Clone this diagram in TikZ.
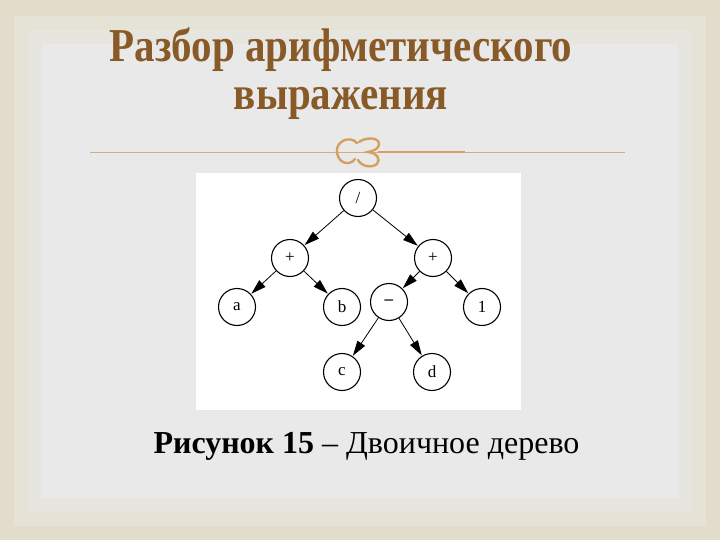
\documentclass[tikz,border=0pt]{standalone}
\usepackage{fontspec}
\setmainfont{Liberation Serif}
\usetikzlibrary{positioning,arrows.meta}

\definecolor{titlebrown}{RGB}{136,90,40}
\definecolor{ruletan}{RGB}{214,172,124}
\definecolor{ornament}{RGB}{212,160,96}
\definecolor{framebeige}{RGB}{226,221,202}
\definecolor{slidegray}{RGB}{233,233,233}

\begin{document}
\begin{tikzpicture}[x=1pt,y=-1pt,on grid,
			vertex/.style={circle, draw=black, fill=white, line width=1.1pt, minimum size=37pt, inner sep=0pt, font=\fontsize{17}{17}\selectfont},
			edge/.style={-{Triangle[length=15pt,width=9pt]}, line width=0.8pt, shorten >=0.5pt},
			title/.style={text=titlebrown, font=\fontsize{41}{48}\selectfont\bfseries, anchor=base}
		]
		\useasboundingbox (0,0) rectangle (720,540);
		
		% slide background
		\fill[framebeige] (0,0) rectangle (720,540);
		\fill[framebeige!60!slidegray] (14,16) rectangle (706,526);
		\fill[framebeige!30!slidegray] (28,30) rectangle (692,512);
		\fill[slidegray] (42,44) rectangle (678,498);
		
		\node[title] (t_1) at (341,62) {\scalebox{1}[1.15]{Разбор арифметического}};
		\node[title] (t_2) at (341,110) {\scalebox{1}[1.15]{выражения}};
		
		% rule with ornament
		\draw[ruletan, line width=0.8pt] (90,152) -- (625,152);
		\draw[ornament, line width=2pt] (378,152) -- (465,152);
		\draw[ornament, line width=2.4pt, line cap=round]
			(357,143) .. controls (350,135) and (335,141) .. (337,153)
			.. controls (339,164) and (350,166) .. (355,159);
		\draw[ornament, line width=2.4pt, line cap=round]
			(359,142) .. controls (366,137) and (379,137) .. (379,144)
			.. controls (379,149) and (373,151) .. (368,152)
			.. controls (377,153) and (381,159) .. (377,164)
			.. controls (372,168) and (362,167) .. (358,160);
		
		% figure
		\fill[white] (196,173) rectangle (521,410);
		
		\node[vertex] (div) at (358,198) {/};
		\node[vertex] (plus_l) [below left=60pt and 68pt of div] {+};
		\node[vertex] (plus_r) [below right=60pt and 75pt of div] {+};
		\node[vertex] (a) [below left=49pt and 53pt of plus_l] {a};
		\node[vertex] (b) [below right=49pt and 52pt of plus_l] {b};
		\node[vertex] (minus) [below left=44pt and 44pt of plus_r] {\textbf{–}};
		\node[vertex] (one) [below right=49pt and 49pt of plus_r] {1};
		\node[vertex] (c) [below left=70pt and 47pt of minus] {c};
		\node[vertex] (d) [below right=70pt and 43pt of minus] {d};
		
		\draw[edge] (div) -- (plus_l);
		\draw[edge] (div) -- (plus_r);
		\draw[edge] (plus_l) -- (a);
		\draw[edge] (plus_l) -- (b);
		\draw[edge] (plus_r) -- (minus);
		\draw[edge] (plus_r) -- (one);
		\draw[edge] (minus) -- (c);
		\draw[edge] (minus) -- (d);
		
		\node[anchor=base west, font=\fontsize{32}{38}\selectfont] (caption) at (150,453) {\textbf{Рисунок 15} – Двоичное дерево};
	\end{tikzpicture}
\end{document}
